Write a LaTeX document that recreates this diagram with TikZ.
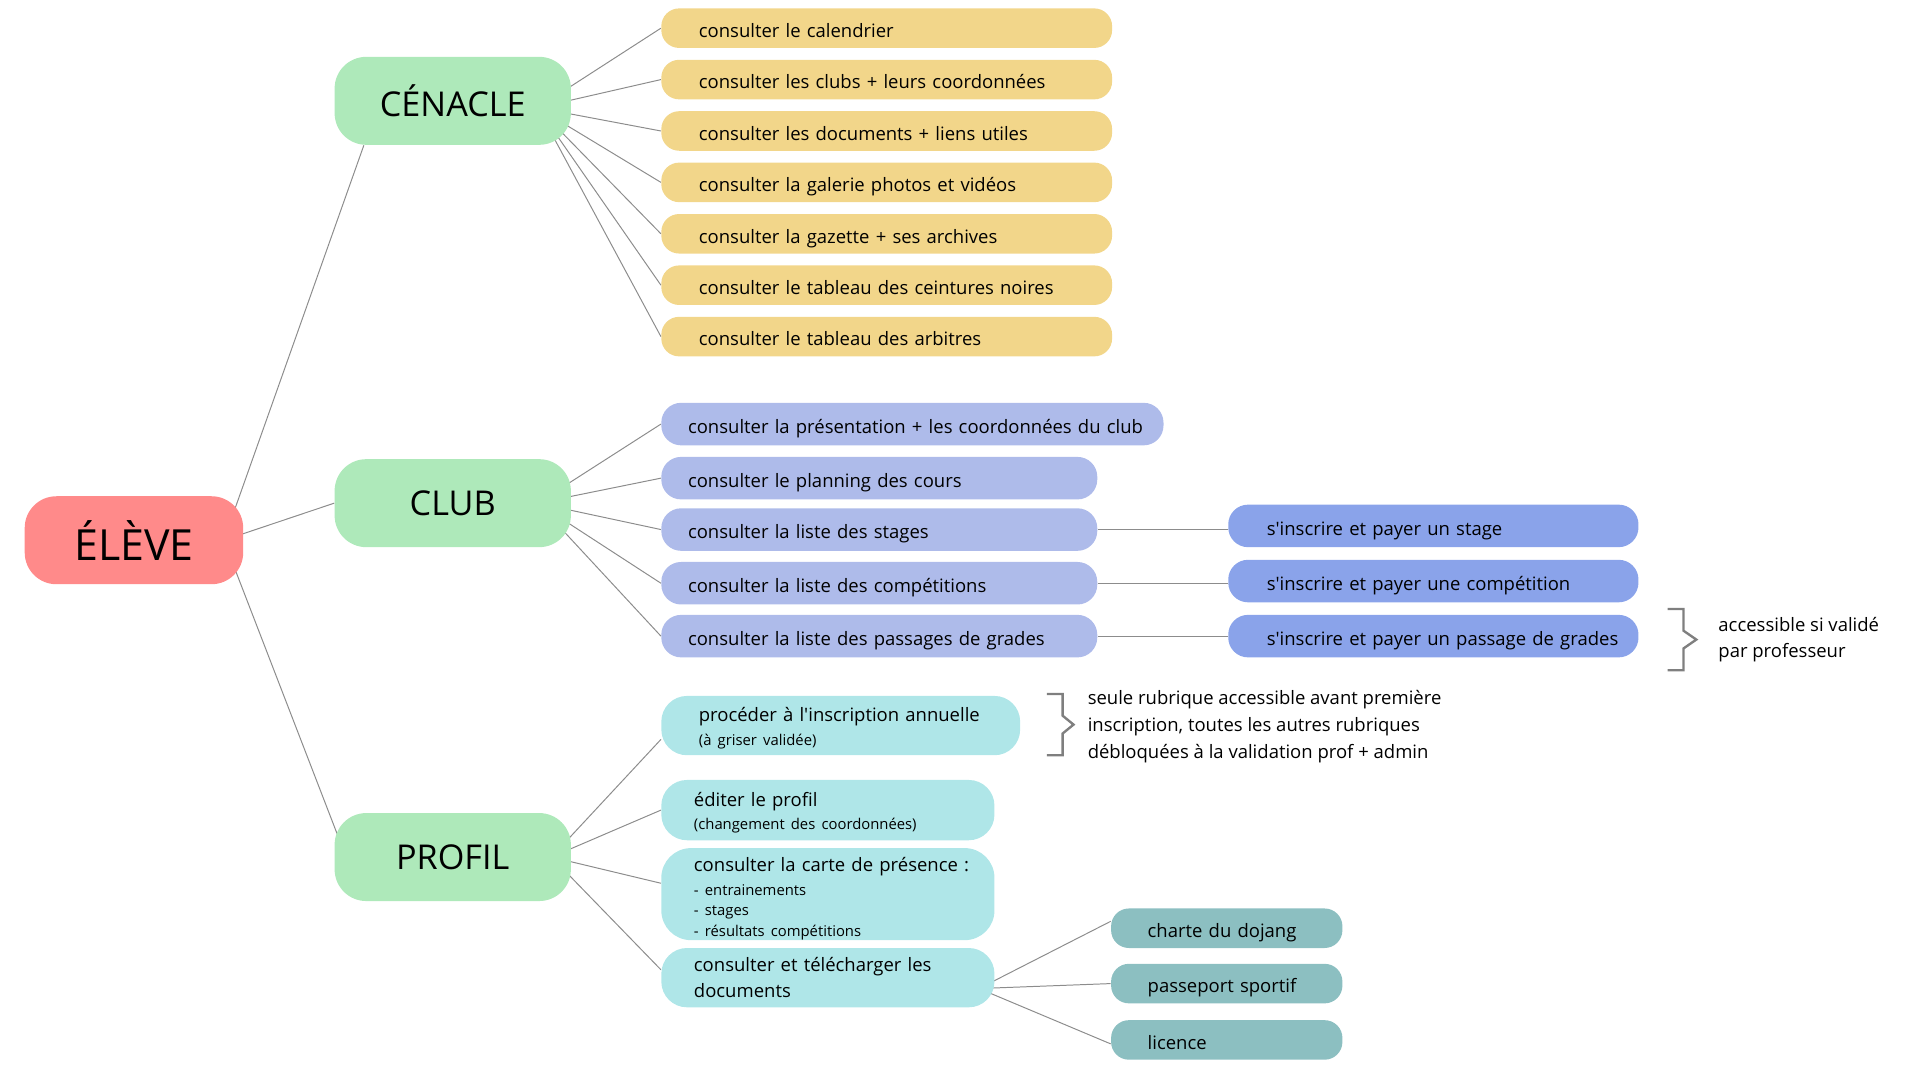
\documentclass[tikz,border=0pt]{standalone}
\usepackage{fontspec}
\setmainfont{Open Sans}[Ligatures=TeXOff]
\usetikzlibrary{backgrounds}

\definecolor{rouge}{HTML}{FF8A8A}
\definecolor{vert}{HTML}{AEE9BA}
\definecolor{jaune}{HTML}{F2D68A}
\definecolor{lilas}{HTML}{AEBBEA}
\definecolor{bleu}{HTML}{8AA3EA}
\definecolor{turquoise}{HTML}{AFE6E8}
\definecolor{sarcelle}{HTML}{8CBFC1}
\definecolor{trait}{HTML}{8C8C8C}
\definecolor{gris}{HTML}{7F7F7F}

\newcommand{\fntbox}{\fontsize{9.35}{13.5}\selectfont}
\newcommand{\fntpetit}{\fontsize{7.5}{10.5}\selectfont}
\newcommand{\fnttitre}{\fontsize{17.3}{20}\selectfont}
\newcommand{\fnteleve}{\fontsize{21.7}{24}\selectfont}

\begin{document}
\begin{tikzpicture}[x=0.5pt, y=-0.5pt,
	every node/.style={inner sep=0pt, font=\fntbox},
	titre/.style={fill=vert, rounded corners=16pt, minimum width=119.5pt, minimum height=44.5pt, font=\fnttitre},
	ligne/.style={text height=9.5pt, text depth=0pt},
	jaunebox/.style={ligne, fill=jaune, rounded corners=9pt, minimum height=20pt, inner xsep=19pt, text width=190pt, align=left},
	lilasbox/.style={ligne, fill=lilas, rounded corners=10pt, minimum height=21.5pt, inner xsep=13.5pt, text width=193.5pt, align=left},
	bleubox/.style={ligne, fill=bleu, rounded corners=10pt, minimum height=21.5pt, inner xsep=19.5pt, text width=168.5pt, align=left},
	turqbox/.style={fill=turquoise, rounded corners=13pt, inner xsep=16.5pt, text width=135.5pt, align=left},
	sarcbox/.style={ligne, fill=sarcelle, rounded corners=9pt, minimum height=20pt, inner xsep=18.5pt, text width=80pt, align=left},
	remarque/.style={anchor=west, align=left},
	accolade/.style={draw=gris, line width=1.2pt}]
			\useasboundingbox (0,0) rectangle (1942.3,1092.5);
			
			\node[titre, fill=rouge, minimum width=110.5pt, font=\fnteleve] (eleve) at (135.5,546.5){ÉLÈVE};
			\node[titre] (cenacle) at (458,102){CÉNACLE};
			\node[titre] (club) at (458,509){CLUB};
			\node[titre] (profil) at (458,867){PROFIL};
			
			\node[jaunebox] (cen1) at (897,28.5){consulter le calendrier};
			\node[jaunebox] (cen2) at (897,80.5){consulter les clubs + leurs coordonnées};
			\node[jaunebox] (cen3) at (897,132.5){consulter les documents + liens utiles};
			\node[jaunebox] (cen4) at (897,184.5){consulter la galerie photos et vidéos};
			\node[jaunebox] (cen5) at (897,236.5){consulter la gazette + ses archives};
			\node[jaunebox] (cen6) at (897,288.5){consulter le tableau des ceintures noires};
			\node[jaunebox] (cen7) at (897,340.5){consulter le tableau des arbitres};
			
			\node[lilasbox, text width=227pt] (club1) at (923,429){\mbox{consulter la présentation + les coordonnées du club}};
			\node[lilasbox] (club2) at (889.5,483.7){consulter le planning des cours};
			\node[lilasbox] (club3) at (889.5,535.7){consulter la liste des stages};
			\node[lilasbox] (club4) at (889.5,590){consulter la liste des compétitions};
			\node[lilasbox] (club5) at (889.5,643.5){\mbox{consulter la liste des passages de grades}};
			
			\node[bleubox] (ins1) at (1450,532){s'inscrire et payer un stage};
			\node[bleubox] (ins2) at (1450,587.8){s'inscrire et payer une compétition};
			\node[bleubox] (ins3) at (1450,643.5){\mbox{s'inscrire et payer un passage de grades}};
			
			\node[turqbox, inner xsep=19pt, text width=143.5pt, minimum height=30pt, text height=10pt] (pro1) at (850.5,734){\mbox{procéder à l'inscription annuelle}\\[-1.5pt]{\fntpetit (à griser validée)}};
			\node[turqbox, minimum height=30.5pt, text height=10pt] (pro2) at (837.5,819.5){éditer le profil\\[-1.8pt]{\fntpetit (changement des coordonnées)}};
			\node[turqbox, minimum height=46.5pt, rounded corners=15pt, text height=12pt] (pro3) at (837.5,904.5){\mbox{consulter la carte de présence~:}\\[-1.75pt]{\fntpetit - entrainements}\\[-3pt]{\fntpetit - stages}\\[-3pt]{\fntpetit - résultats compétitions}};
			\node[turqbox, minimum height=30pt] (pro4) at (837.5,989){consulter et télécharger les\\documents};
			
			\node[sarcbox] (doc1) at (1241,939){charte du dojang};
			\node[sarcbox] (doc2) at (1241,995){passeport sportif};
			\node[sarcbox] (doc3) at (1241,1052){licence};
			
			\node[remarque] (note1) at (1100,735){seule rubrique accessible avant première\\inscription, toutes les autres rubriques\\débloquées à la validation prof + admin};
			\node[remarque] (note2) at (1738,647){accessible si validé\\par professeur};
			
			\draw[accolade] (1687,616) -- (1703,616) -- (1703,638) -- (1716,647) -- (1703,656) -- (1703,678) -- (1687,678);
			\draw[accolade] (1059,702) -- (1075,702) -- (1075,724) -- (1086,733) -- (1075,742) -- (1075,764) -- (1059,764);
			
			\begin{scope}[on background layer, every edge/.style={draw=trait, line width=0.5pt}]
			\path ([xshift=-10pt]eleve.east) edge ([xshift=15pt]cenacle.south west);
			\path ([xshift=-10pt]eleve.east) edge (club.west);
			\path ([xshift=-10pt]eleve.east) edge ([xshift=6pt]profil.west);
			
			\path ([xshift=-17pt,yshift=-3.5pt]cenacle.east) edge (cen1.west);
			\path ([xshift=-17pt,yshift=-3.5pt]cenacle.east) edge (cen2.west);
			\path ([xshift=-17pt,yshift=-3.5pt]cenacle.east) edge (cen3.west);
			\path ([xshift=-17pt,yshift=-3.5pt]cenacle.east) edge (cen4.west);
			\path ([xshift=-17pt,yshift=-3.5pt]cenacle.east) edge (cen5.west);
			\path ([xshift=-17pt,yshift=-3.5pt]cenacle.east) edge (cen6.west);
			\path ([xshift=-17pt,yshift=-3.5pt]cenacle.east) edge (cen7.west);
			
			\path ([xshift=-17pt]club.east) edge (club1.west);
			\path ([xshift=-17pt]club.east) edge (club2.west);
			\path ([xshift=-17pt]club.east) edge (club3.west);
			\path ([xshift=-17pt]club.east) edge (club4.west);
			\path ([xshift=-17pt]club.east) edge (club5.west);
			
			\path (club3.east) edge (club3.east -| ins1.west);
			\path (club4.east) edge (club4.east -| ins2.west);
			\path (club5.east) edge (club5.east -| ins3.west);
			
			\path ([xshift=-10pt]profil.east) edge ([yshift=-7pt]pro1.west);
			\path ([xshift=-10pt]profil.east) edge (pro2.west);
			\path ([xshift=-10pt]profil.east) edge ([yshift=5.5pt]pro3.west);
			\path ([xshift=-10pt]profil.east) edge ([yshift=4pt]pro4.west);
			
			\path ([xshift=-8pt,yshift=-5.5pt]pro4.east) edge ([yshift=3.5pt]doc1.west);
			\path ([xshift=-8pt,yshift=-5.5pt]pro4.east) edge (doc2.west);
			\path ([xshift=-8pt,yshift=-5.5pt]pro4.east) edge ([yshift=-2pt]doc3.west);
			\end{scope}
			\end{tikzpicture}
\end{document}
